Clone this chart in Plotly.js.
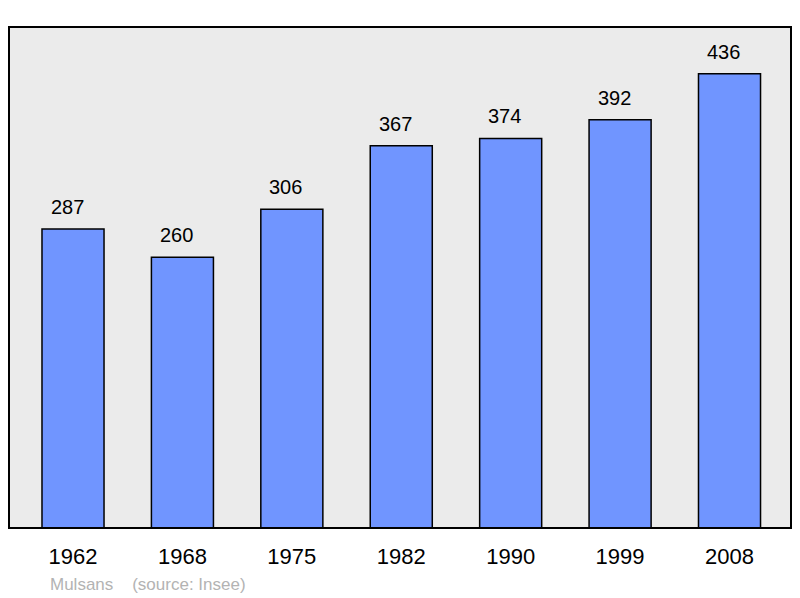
<!DOCTYPE html>
<html><head><meta charset="utf-8">
<script src="https://cdn.plot.ly/plotly-3.0.1.min.js"></script>
<style>html,body{margin:0;padding:0;background:#fff}</style>
</head><body>
<div id="chart" style="width:800px;height:598px"></div>
<script>
const years = ["1962","1968","1975","1982","1990","1999","2008"];
const population = [287,260,306,367,374,392,436];
const sourceText = "Mulsans\u00a0\u00a0\u00a0\u00a0(source: Insee)";

const FONT = 'Liberation Sans, Arial, sans-serif';
const idx = years.map((_, i) => i);
const trace = {
  type: 'bar', x: idx, y: population, width: 0.567,
  marker: {color: '#7095ff', line: {color: '#000', width: 1.5}},
  hoverinfo: 'skip'
};
const valueLabels = population.map((v, i) => ({
  x: i, y: v, xref: 'x', yref: 'y', text: String(v), showarrow: false,
  xanchor: 'center', yanchor: 'middle', yshift: 22, xshift: -6,
  font: {family: FONT, size: 20, color: '#000'}
}));
const layout = {
  width: 800, height: 598,
  margin: {l: 9, r: 9, t: 27, b: 70},
  paper_bgcolor: '#fff', plot_bgcolor: '#ebebeb',
  showlegend: false,
  xaxis: {range: [-0.585, 6.562], tickvals: idx, ticktext: years, showgrid: false, zeroline: false,
    ticks: 'outside', ticklen: 9, tickcolor: 'rgba(0,0,0,0)',
    tickfont: {family: FONT, size: 22, color: '#000'}, fixedrange: true},
  yaxis: {range: [0, 481], showticklabels: false, showgrid: false, zeroline: false, fixedrange: true},
  shapes: [{type: 'rect', xref: 'paper', yref: 'paper', x0: 0, x1: 1, y0: 0, y1: 1,
    line: {color: '#000', width: 2}}],
  annotations: valueLabels.concat([{xref: 'paper', yref: 'paper', x: 0.05, y: -0.112, xanchor: 'left', yanchor: 'middle',
    text: sourceText, showarrow: false,
    font: {family: FONT, size: 17, color: '#b3b3b3'}}])
};
Plotly.newPlot('chart', [trace], layout, {displayModeBar: false, staticPlot: true});
</script>
</body></html>
